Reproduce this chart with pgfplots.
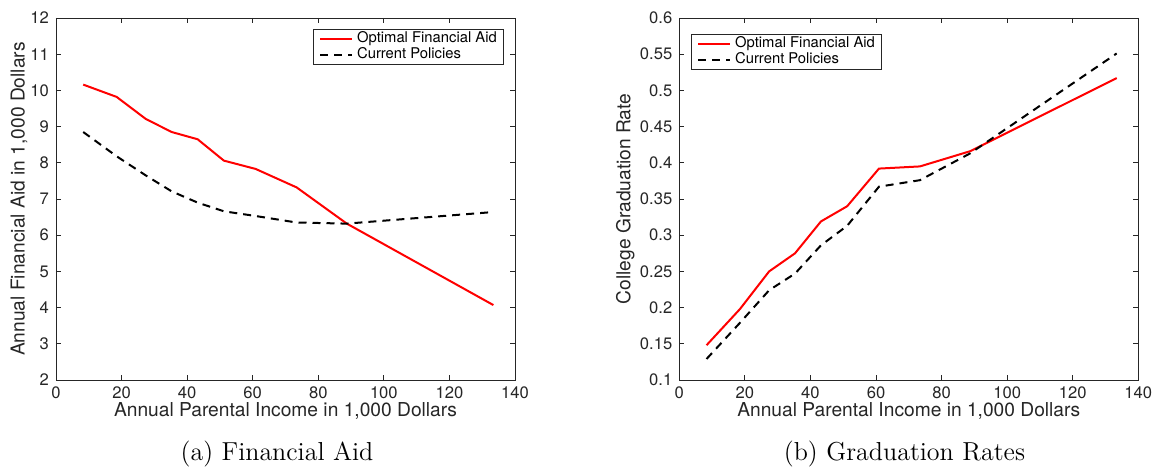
\documentclass[border=0pt]{standalone}
\usepackage{fontspec}
\newfontfamily\hv{TeX Gyre Heros}
\usepackage{pgfplots}
\pgfplotsset{compat=1.18}
\definecolor{axgray}{RGB}{38,38,38}
\pgfplotsset{mystyle/.style={
  scale only axis, width=229.5pt, height=181pt,
  xmin=0, xmax=140, xtick={0,20,...,140},
  axis line style={axgray, line width=0.45pt},
  tick style={axgray, line width=0.45pt},
  tick align=inside, major tick length=2.5pt,
  ticklabel style={font=\hv\fontsize{8.3}{10}\selectfont, text=axgray},
  /pgf/number format/assume math mode=true,
  label style={font=\hv\fontsize{9.6}{11}\selectfont, text=axgray},
  xlabel={Annual Parental Income in 1,000 Dollars},
  xlabel style={at={(axis description cs:0.5,0)}, anchor=center, yshift=-15.5pt},
  legend cell align=left,
  legend style={font=\hv\fontsize{7.4}{8}\selectfont, draw=axgray, line width=0.45pt,
    inner xsep=3pt, inner ysep=0.75pt, column sep=1.5pt,
    nodes={inner sep=0.5pt, text height=5.5pt, text depth=1.5pt}},
  legend image code/.code={\draw[#1] (0pt,0pt) -- (16pt,0pt);},
  redline/.style={red, line width=1pt},
  dashline/.style={black, line width=1pt, dash pattern=on 4pt off 3pt},
}}
\begin{document}
\begin{tikzpicture}
\useasboundingbox (-28pt,-45.5pt) rectangle (550pt,190pt);
\begin{axis}[mystyle, at={(0pt,0pt)}, anchor=south west,
  ymin=2, ymax=12, ytick={2,3,...,12},
  ylabel={Annual Financial Aid in 1,000 Dollars},
  ylabel style={at={(axis description cs:0,0.5)}, anchor=center, rotate=0, yshift=18.5pt},
  legend style={at={(1,1)}, anchor=north east, xshift=-5.35pt, yshift=-5.5pt}]
\addplot[redline] coordinates {(8.3,10.16) (18.5,9.82) (27.4,9.21) (35.3,8.85) (43.2,8.65) (51.2,8.06) (60.9,7.83) (73.4,7.32) (88.7,6.32) (133.4,4.07)};
\addlegendentry{Optimal Financial Aid}
\addplot[dashline] coordinates {(8.3,8.85) (18.5,8.18) (27.4,7.65) (35.3,7.21) (43.2,6.9) (51.2,6.66) (60.9,6.53) (73.4,6.35) (88.7,6.32) (133.4,6.64)};
\addlegendentry{Current Policies}
\end{axis}
\begin{axis}[mystyle, at={(311.65pt,0pt)}, anchor=south west,
  ymin=0.1, ymax=0.6, ytick={0.1,0.15,...,0.61},
  yticklabel style={/pgf/number format/fixed, /pgf/number format/precision=2},
  ylabel={College Graduation Rate},
  ylabel style={at={(axis description cs:0,0.5)}, anchor=center, yshift=27pt},
  legend style={at={(0,1)}, anchor=north west, xshift=5.7pt, yshift=-8pt}]
\addplot[redline] coordinates {(8.3,0.148) (18.5,0.198) (27.4,0.250) (35.3,0.275) (43.2,0.319) (51.2,0.340) (60.9,0.392) (73.4,0.395) (88.7,0.416) (133.4,0.517)};
\addlegendentry{Optimal Financial Aid}
\addplot[dashline] coordinates {(8.3,0.129) (18.5,0.179) (27.4,0.224) (35.3,0.247) (43.2,0.286) (51.2,0.313) (60.9,0.367) (73.4,0.376) (88.7,0.413) (133.4,0.551)};
\addlegendentry{Current Policies}
\end{axis}
\node[anchor=base, font=\fontsize{13}{16}\selectfont] at (110.5pt,-40pt) {(a) Financial Aid};
\node[anchor=base, font=\fontsize{13}{16}\selectfont] at (424.25pt,-40pt) {(b) Graduation Rates};
\end{tikzpicture}
\end{document}
